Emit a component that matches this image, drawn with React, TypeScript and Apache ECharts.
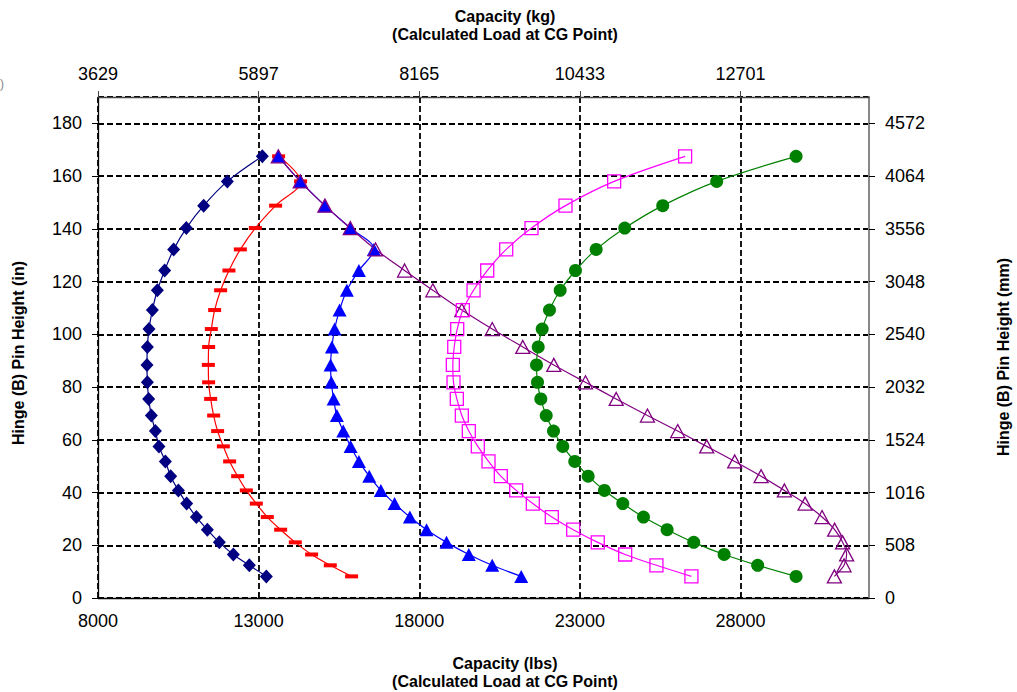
import { useEffect, useRef } from "react";
import * as echarts from "echarts";

// Hinge (B) pin height, inches (shared by all curves)
const heightsIn = [
  167.5, 158.0, 148.8, 140.3, 132.2, 124.2, 116.7, 109.2, 102.0, 95.2, 88.4, 81.8, 75.5,
  69.2, 63.3, 57.5, 51.8, 46.2, 40.8, 35.8, 30.7, 25.9, 21.1, 16.5, 12.4, 8.2,
];

// Capacity (lbs) for each curve, same order as heightsIn
const navyLbs = [
  13115, 12026, 11289, 10750, 10355, 10075, 9848, 9693, 9587, 9537, 9525, 9537, 9577,
  9661, 9786, 9898, 10097, 10262, 10502, 10760, 11062, 11404, 11777, 12213, 12711, 13240,
];
const redLbs = [
  13622, 14307, 13529, 12897, 12431, 12076, 11818, 11631, 11528, 11444, 11435, 11444, 11507,
  11600, 11724, 11902, 12098, 12347, 12617, 12928, 13271, 13685, 14142, 14649, 15231, 15894,
];
const blueLbs = [
  13613, 14297, 15063, 15853, 16588, 16121, 15747, 15520, 15365, 15281, 15240, 15262, 15334,
  15436, 15635, 15863, 16121, 16444, 16805, 17232, 17708, 18227, 18849, 19543, 20271, 21174,
];
const purpleLbs = [
  13613, 14297, 15063, 15853, 16640, 17543, 18423, 19325, 20271, 21223, 22188, 23174, 24130,
  25103, 26046, 26948, 27820, 28641, 29366, 30010, 30539, 30931, 31180, 31304, 31223, 30922,
];
const magentaLbs = [
  26276, 24067, 22552, 21494, 20707, 20116, 19690, 19357, 19182, 19089, 19045, 19067, 19170,
  19325, 19543, 19823, 20156, 20539, 21018, 21535, 22126, 22792, 23557, 24410, 25383, 26472,
];
const greenLbs = [
  29730, 27259, 25579, 24397, 23507, 22863, 22387, 22054, 21827, 21703, 21650, 21681, 21784,
  21952, 22179, 22468, 22841, 23258, 23765, 24335, 24979, 25716, 26544, 27490, 28535, 29730,
];

const LBS_TO_KG = 0.45359237;
const IN_TO_MM = 25.4;

const FONT = "'Liberation Sans', Arial, sans-serif";

export default function App() {
  const ref = useRef<HTMLDivElement>(null);

  useEffect(() => {
    document.body.style.margin = "0";
    const chart = echarts.init(ref.current!, null, { renderer: "svg" });
    const pair = (xs: number[]) => xs.map((x, i) => [x, heightsIn[i]]);

    const mk = (
      name: string,
      xs: number[],
      color: string,
      symbol: string,
      size: number | number[],
      hollow: boolean
    ) => ({
      type: "line",
      name,
      data: pair(xs),
      smooth: 0.35,
      symbol,
      symbolSize: size,
      showSymbol: true,
      clip: false,
      lineStyle: { color, width: 1.2 },
      itemStyle: hollow
        ? { color: "rgba(0,0,0,0)", borderColor: color, borderWidth: 1.3 }
        : { color, borderWidth: 0 },
      emphasis: { disabled: true },
    });

    const axisLabelBase = {
      fontSize: 18,
      color: "#000",
      fontFamily: FONT,
      showMaxLabel: false,
    };
    const grid = {
      type: [6, 3],
      color: "#000",
      width: 1.8,
    };
    const titleStyle = (text: string) => ({
      text,
      font: `bold 16px ${FONT}`,
      fill: "#000",
      textAlign: "center",
      textVerticalAlign: "middle",
    });

    chart.setOption({
      animation: false,
      backgroundColor: "#fff",
      grid: {
        left: 98,
        right: 148,
        top: 97,
        bottom: 94,
        containLabel: false,
        outerBoundsMode: "none",
      },
      xAxis: [
        {
          type: "value",
          position: "bottom",
          min: 8000,
          max: 32000,
          interval: 5000,
          axisLine: { onZero: false, lineStyle: { color: "#000", width: 1.3 } },
          axisTick: { show: true, inside: true, length: 5, lineStyle: { color: "#000" } },
          axisLabel: { ...axisLabelBase, margin: 14, formatter: (v: number) => String(v) },
          splitLine: { show: true, lineStyle: grid },
        },
        {
          type: "value",
          position: "top",
          min: 8000,
          max: 32000,
          interval: 5000,
          axisLine: { onZero: false, lineStyle: { color: "#444", width: 1.3 } },
          axisTick: { show: true, length: 6, lineStyle: { color: "#444" } },
          axisLabel: {
            ...axisLabelBase,
            margin: 14,
            formatter: (v: number) => String(Math.round(v * LBS_TO_KG)),
          },
          splitLine: { show: false },
        },
      ],
      yAxis: [
        {
          type: "value",
          position: "left",
          min: 0,
          max: 190,
          interval: 20,
          axisLine: { show: true, onZero: false, lineStyle: { color: "#000", width: 1.3 } },
          axisTick: { show: true, length: 6, lineStyle: { color: "#000" } },
          axisLabel: { ...axisLabelBase, margin: 16, formatter: (v: number) => String(v) },
          splitLine: { show: true, lineStyle: grid },
        },
        {
          type: "value",
          position: "right",
          min: 0,
          max: 190,
          interval: 20,
          axisLine: { show: true, onZero: false, lineStyle: { color: "#888", width: 2 } },
          axisTick: { show: true, length: 6, lineStyle: { color: "#000" } },
          axisLabel: {
            ...axisLabelBase,
            margin: 16,
            formatter: (v: number) => String(Math.round(v * IN_TO_MM)),
          },
          splitLine: { show: false },
        },
      ],
      graphic: [
        { type: "text", x: 505, y: 16, style: titleStyle("Capacity (kg)") },
        { type: "text", x: 505, y: 34, style: titleStyle("(Calculated Load at CG Point)") },
        { type: "text", x: 505, y: 663, style: titleStyle("Capacity (lbs)") },
        { type: "text", x: 505, y: 681, style: titleStyle("(Calculated Load at CG Point)") },
        {
          type: "text",
          x: 18,
          y: 353,
          rotation: Math.PI / 2,
          style: titleStyle("Hinge (B) Pin Height (in)"),
        },
        {
          type: "text",
          x: 1003,
          y: 357,
          rotation: Math.PI / 2,
          style: titleStyle("Hinge (B) Pin Height (mm)"),
        },
        {
          type: "text",
          x: 0,
          y: 84,
          style: {
            text: ")",
            font: `12px ${FONT}`,
            fill: "#888",
            textAlign: "left",
            textVerticalAlign: "middle",
          },
        },
      ],
      series: [
        mk("Navy", navyLbs, "#000080", "diamond", [13, 14], false),
        mk("Red", redLbs, "#FF0000", "rect", [13, 4], false),
        mk("Blue", blueLbs, "#0000FF", "triangle", [14, 13], false),
        mk("Purple", purpleLbs, "#800080", "triangle", [14, 13], true),
        mk("Magenta", magentaLbs, "#FF00FF", "rect", [13, 13], true),
        mk("Green", greenLbs, "#008000", "circle", 13, false),
      ],
    });

    return () => chart.dispose();
  }, []);

  return (
    <div
      ref={ref}
      style={{ position: "fixed", left: 0, top: 0, width: 1017, height: 692 }}
    />
  );
}
